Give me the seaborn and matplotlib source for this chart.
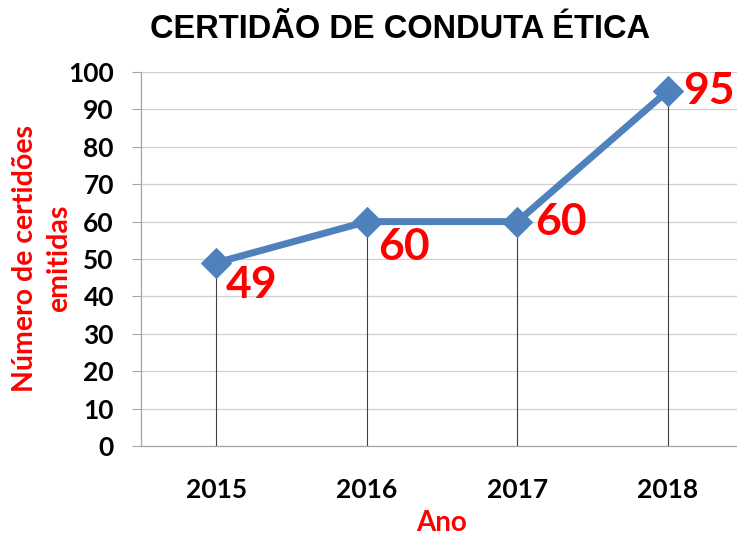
import matplotlib
matplotlib.use("Agg")
import matplotlib.pyplot as plt
import seaborn as sns
import pandas as pd

years = ["2015", "2016", "2017", "2018"]
values = [49, 60, 60, 95]
y_ticks = [0, 10, 20, 30, 40, 50, 60, 70, 80, 90, 100]

title = "CERTIDÃO DE CONDUTA ÉTICA"
ylabel = "Número de certidões\nemitidas"
xlabel = "Ano"

sns.set_theme(style="white")
plt.rcParams['font.family'] = ['Lato', 'DejaVu Sans']

df = pd.DataFrame({"Ano": years, "Valor": values})

fig = plt.figure(figsize=(7.37, 5.36), dpi=100)
ax = fig.add_axes([141/737, 1-446/536, (737-141)/737, (446-72)/536])

line_color = "#4F81BD"
pos = list(range(len(years)))
ax.vlines(pos, 0, values, color="#404040", linewidth=0.8, zorder=2)
sns.lineplot(data=df, x="Ano", y="Valor", ax=ax, color=line_color, linewidth=5,
             marker="D", markersize=15, markeredgecolor=line_color, zorder=3, sort=False)

ax.set_ylim(0, 100)
ax.set_xlim(-0.5, 3 + (737-668)/150.5)
ax.set_yticks(y_ticks)
ax.set_yticklabels([str(t) for t in y_ticks], fontsize=19, fontweight="bold", color="black")
ax.set_xticks(pos)
ax.set_xticklabels(years, fontsize=19, fontweight="bold", color="black")
ax.tick_params(axis="y", length=6.5, width=0.8, color="#a6a6a6", pad=13, left=True)
ax.tick_params(axis="x", length=0, pad=23)
ax.grid(axis="y", color="#d0d0d0", linewidth=0.9)
ax.set_axisbelow(True)
for s in ["top", "right"]:
    ax.spines[s].set_visible(False)
ax.spines["left"].set_color("#a6a6a6")
ax.spines["bottom"].set_color("#a6a6a6")
ax.spines["left"].set_linewidth(0.9)
ax.spines["bottom"].set_linewidth(0.9)
ax.set_xlabel("")
ax.set_ylabel("")

offsets = [(7, -16), (8, -18), (13, 0), (11, 0)]
for i, (v, off) in enumerate(zip(values, offsets)):
    ax.annotate(str(v), (i, v), xytext=off, textcoords="offset points",
                ha="left", va="center", fontsize=32, fontweight="bold", color="#ff0000", zorder=4)

fig.text(400/737, 1-30/536, title, ha="center", va="center", fontsize=23.5,
         fontweight="bold", family=["Liberation Sans", "DejaVu Sans"], color="black")
fig.text(42/737, 1-258/536, ylabel, rotation=90, ha="center", va="center",
         multialignment="center", fontsize=20.5, fontweight="bold", color="#ff0000", linespacing=1.35)
fig.text(442/737, 1-523/536, xlabel, ha="center", va="center", fontsize=20,
         fontweight="bold", color="#ff0000")

fig.savefig("out.png", dpi=100)
